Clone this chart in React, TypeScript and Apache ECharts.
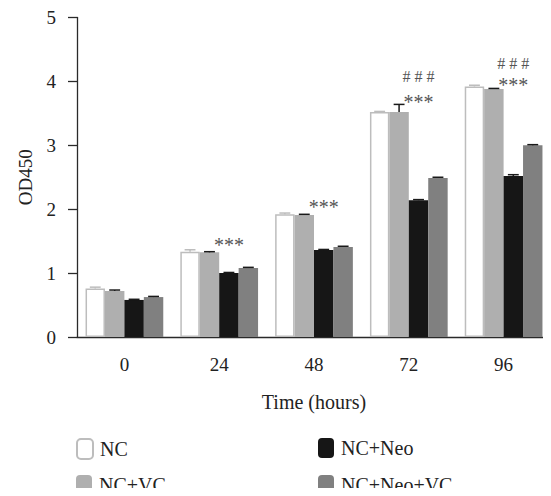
import React, { useEffect, useRef } from "react";
import * as echarts from "echarts";

const categories = ["0", "24", "48", "72", "96"];
const seriesNames = ["NC", "NC+VC", "NC+Neo", "NC+Neo+VC"];
const ncValues = [0.76, 1.335, 1.92, 3.52, 3.92];
const vcValues = [0.72, 1.325, 1.91, 3.52, 3.88];
const neoValues = [0.58, 1.0, 1.36, 2.14, 2.52];
const neoVcValues = [0.625, 1.08, 1.41, 2.49, 3.0];
const ncErrors = [0.02, 0.03, 0.02, 0.01, 0.02];
const vcErrors = [0.015, 0.01, 0.01, 0.12, 0.01];
const neoErrors = [0.01, 0.01, 0.01, 0.01, 0.02];
const neoVcErrors = [0.01, 0.01, 0.01, 0.01, 0.01];
const annotCats = [1, 2, 3, 3, 4, 4];
const annotValues = [1.5, 2.1, 3.74, 4.07, 4.01, 4.28];
const annotTexts = ["***", "***", "***", "# # #", "***", "# # #"];
const yTicks = [0, 1, 2, 3, 4, 5];

const colors = ["#ffffff", "#afafaf", "#161616", "#808080"];
const CAT_GAP = 0.18;
const FONT = "'Liberation Serif', 'Times New Roman', serif";

export default function App() {
  const ref = useRef<HTMLDivElement>(null);
  useEffect(() => {
    if (!ref.current) return;
    const chart = echarts.init(ref.current, null, { renderer: "svg" });
    const values = [ncValues, vcValues, neoValues, neoVcValues];
    const errors = [ncErrors, vcErrors, neoErrors, neoVcErrors];
    const errData: number[][] = [];
    values.forEach((arr, s) =>
      arr.forEach((v, i) => errData.push([i, v, errors[s][i], s]))
    );
    const annotData = annotCats.map((c, i) => [c, annotValues[i]]);

    const barSeries = seriesNames.map((name, s) => ({
      name,
      type: "bar",
      data: values[s],
      barGap: "0%",
      barCategoryGap: CAT_GAP * 100 + "%",
      itemStyle:
        s === 0
          ? { color: "#ffffff", borderColor: "#bdbdbd", borderWidth: 1.5 }
          : { color: colors[s] },
      z: 2,
    }));

    const legendPos = [
      { left: 76, top: 438 },
      { left: 76, top: 475 },
      { left: 318, top: 438 },
      { left: 318, top: 475 },
    ];
    const legends = seriesNames.map((name, i) => ({
      left: legendPos[i].left,
      top: legendPos[i].top,
      padding: 0,
      itemWidth: 16,
      itemHeight: 20,
      itemGap: 0,
      textStyle: { fontFamily: FONT, fontSize: 20, color: "#222", padding: [0, 0, 0, 2] },
      data: [name],
    }));

    chart.setOption({
      animation: false,
      grid: { left: 77, top: 17.5, bottom: 159, width: 476 },
      xAxis: {
        type: "category",
        data: categories,
        name: "Time (hours)",
        nameLocation: "middle",
        nameGap: 55,
        nameTextStyle: { fontFamily: FONT, fontSize: 20, color: "#222" },
        axisLine: { lineStyle: { color: "#2a2a2a", width: 1.3 } },
        axisTick: { alignWithLabel: true, length: 8, lineStyle: { color: "#2a2a2a", width: 1.3 } },
        axisLabel: { fontFamily: FONT, fontSize: 19, color: "#222", margin: 18 },
      },
      yAxis: {
        type: "value",
        min: yTicks[0],
        max: yTicks[yTicks.length - 1],
        interval: 1,
        name: "OD450",
        nameLocation: "middle",
        nameGap: 42,
        nameTextStyle: { fontFamily: FONT, fontSize: 19, color: "#222" },
        axisLine: { show: true, lineStyle: { color: "#2a2a2a", width: 1.3 } },
        axisTick: { show: true, length: 9, lineStyle: { color: "#2a2a2a", width: 1.3 } },
        axisLabel: { fontFamily: FONT, fontSize: 19, color: "#222", margin: 21 },
        splitLine: { show: false },
      },
      legend: legends,
      series: [
        ...barSeries,
        {
          type: "custom",
          name: "errors",
          data: errData,
          encode: { x: 0, y: 1 },
          z: 5,
          renderItem: (params: any, api: any) => {
            const cat = api.value(0);
            const v = api.value(1);
            const e = api.value(2);
            const s = api.value(3);
            const band = api.size([1, 0])[0];
            const bw = (band * (1 - CAT_GAP)) / 4;
            const base = api.coord([cat, v]);
            const top = api.coord([cat, v + e]);
            const x = base[0] + (s - 1.5) * bw;
            const half = bw * 0.28;
            const color = s === 0 ? "#bdbdbd" : "#1a1a1a";
            return {
              type: "group",
              children: [
                {
                  type: "line",
                  shape: { x1: x, y1: base[1], x2: x, y2: top[1] },
                  style: { stroke: color, lineWidth: 1.5 },
                },
                {
                  type: "line",
                  shape: { x1: x - half, y1: top[1], x2: x + half, y2: top[1] },
                  style: { stroke: color, lineWidth: 1.5 },
                },
              ],
            };
          },
        },
        {
          type: "custom",
          name: "annotations",
          data: annotData,
          encode: { x: 0, y: 1 },
          z: 6,
          renderItem: (params: any, api: any) => {
            const cat = api.value(0);
            const v = api.value(1);
            const band = api.size([1, 0])[0];
            const bw = (band * (1 - CAT_GAP)) / 4;
            const p = api.coord([cat, v]);
            const txt = annotTexts[params.dataIndex];
            const isStar = txt.indexOf("*") >= 0;
            return {
              type: "text",
              x: p[0] + 0.5 * bw,
              y: p[1] + (isStar ? 4 : 0),
              style: {
                text: txt,
                fontFamily: FONT,
                fontSize: isStar ? 20 : 16,
                fill: "#555",
                align: "center",
                verticalAlign: "middle",
              },
            };
          },
        },
      ],
    });
    return () => chart.dispose();
  }, []);
  return <div ref={ref} style={{ width: 551, height: 496, margin: -8 }} />;
}
